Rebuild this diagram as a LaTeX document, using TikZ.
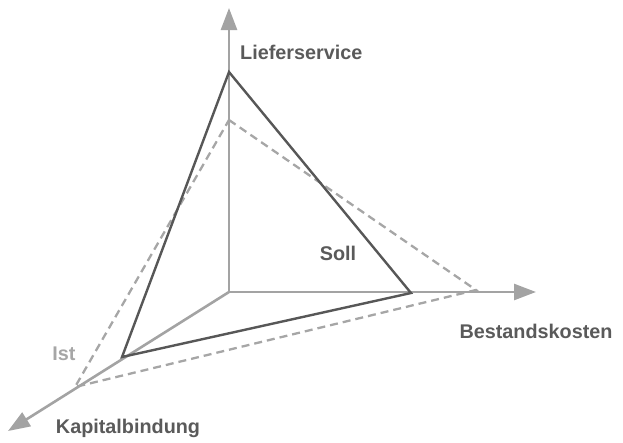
\documentclass[tikz,border=0pt]{standalone}
\usepackage{fontspec}
\setmainfont{Liberation Sans}
\usetikzlibrary{arrows.meta}
\definecolor{axisgray}{HTML}{A3A3A3}
\definecolor{sollgray}{HTML}{575757}
\definecolor{istgray}{HTML}{A6A6A6}
\definecolor{textgray}{HTML}{5A5A5A}
\begin{document}
\begin{tikzpicture}[x=1pt,y=-1pt,
  axis/.style={draw=axisgray,line width=2.6pt,-{Triangle[length=22pt,width=16pt]}},
  sollline/.style={draw=sollgray,line width=2.4pt,line join=miter},
  istline/.style={draw=istgray,line width=2.3pt,dash pattern=on 8pt off 5pt},
  lbl/.style={font=\fontsize{19.8}{22}\selectfont\bfseries,text=textgray,inner sep=0pt}]
\useasboundingbox (0,0) rectangle (623,442);
% axes
\coordinate (o) at (229,292);
\coordinate (ly) at (229,8);
\coordinate (lx) at (536,292);
\coordinate (lz) at (8,431);
% Ist (dashed)
\coordinate (i1) at (229,120);
\coordinate (i2) at (476,290);
\coordinate (i3) at (75,387);
\draw[istline] (i1) -- (i2) -- (i3) -- cycle;
% Soll (solid)
\coordinate (s1) at (229,72);
\coordinate (s2) at (411,293);
\coordinate (s3) at (122,357);
\draw[axis] (o) -- (ly);
\draw[axis] (o) -- (lx);
\draw[axis] (o) -- (lz);
\draw[sollline] (s1) -- (s2) -- (s3) -- cycle;
% labels
\node[lbl,anchor=west] (tl) at (240,52) {Lieferservice};
\node[lbl] (ts) at (338,253) {Soll};
\node[lbl] (tb) at (536,331) {Bestandskosten};
\node[lbl,text=istgray] (ti) at (64,354) {Ist};
\node[lbl] (tk) at (128,428) {Kapitalbindung};
\end{tikzpicture}
\end{document}
